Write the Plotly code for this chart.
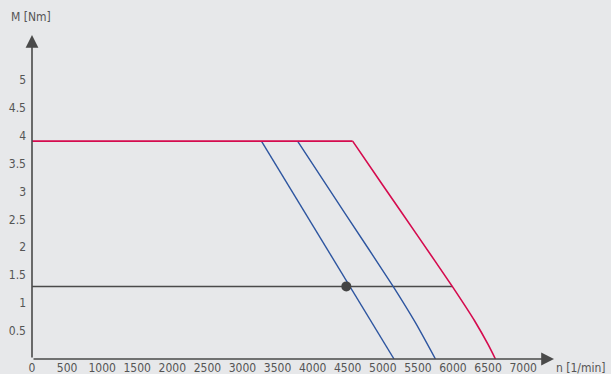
import plotly.graph_objects as go

# Torque/speed characteristic curves: speed n [1/min], torque M [Nm]
red_flat_n = [0, 4570]
red_flat_m = [3.9, 3.9]
red_n = [4570, 5000, 5500, 5990, 6310, 6500, 6605]
red_m = [3.9, 3.11, 2.2, 1.3, 0.68, 0.26, 0.0]

blue1_n = [3270, 4530, 5160]
blue1_m = [3.9, 1.3, 0.0]

blue2_n = [3785, 4466, 5147, 5465, 5750]
blue2_m = [3.9, 2.6, 1.3, 0.65, 0.0]

# Operating point and its load line
load_n = [0, 5990]
load_m = [1.3, 1.3]
op_n = [4480]
op_m = [1.3]

x_ticks = [0, 500, 1000, 1500, 2000, 2500, 3000, 3500, 4000, 4500, 5000, 5500, 6000, 6500, 7000]
x_labels = [str(v) for v in x_ticks]
y_ticks = [0.5, 1, 1.5, 2, 2.5, 3, 3.5, 4, 4.5, 5]
y_labels = ["0.5", "1", "1.5", "2", "2.5", "3", "3.5", "4", "4.5", "5"]

X_MAX = 7440
Y_MAX = 5.8

W, H = 611, 374
ML, MR, MT, MB = 32, 57, 35, 15
PW, PH = W - ML - MR, H - MT - MB

BG = "#e7e8ea"
RED = "#d50b4e"
BLUE = "#2d55a0"
DARK = "#4a4a4a"
TXT = "#555555"
FONT = "Liberation Sans Narrow, DejaVu Sans Condensed, sans-serif"


def px_to_paper(px, py):
    """Convert page pixel position to plot-area paper coordinates."""
    return (px - ML) / PW, (H - MB - py) / PH


fig = go.Figure()
fig.add_trace(go.Scatter(x=load_n, y=load_m, mode="lines",
                         line=dict(color=DARK, width=1.5), hoverinfo="skip"))
fig.add_trace(go.Scatter(x=blue1_n, y=blue1_m, mode="lines",
                         line=dict(color=BLUE, width=1.4),
                         hoverinfo="skip"))
fig.add_trace(go.Scatter(x=blue2_n, y=blue2_m, mode="lines",
                         line=dict(color=BLUE, width=1.4, shape="spline", smoothing=0.6),
                         hoverinfo="skip"))
fig.add_trace(go.Scatter(x=red_flat_n, y=red_flat_m, mode="lines",
                         line=dict(color=RED, width=1.6), hoverinfo="skip"))
fig.add_trace(go.Scatter(x=red_n, y=red_m, mode="lines",
                         line=dict(color=RED, width=1.6, shape="spline", smoothing=0.6),
                         hoverinfo="skip"))
fig.add_trace(go.Scatter(x=op_n, y=op_m, mode="markers",
                         marker=dict(color="#444444", size=10, line=dict(width=0)),
                         hoverinfo="skip"))

# Axis lines with arrow heads
fig.add_annotation(x=X_MAX, y=0, ax=0, ay=0, xref="x", yref="y", axref="x", ayref="y",
                   text="", showarrow=True, arrowhead=2, arrowsize=1.6,
                   arrowwidth=1.6, arrowcolor=DARK, standoff=0, startstandoff=0)
fig.add_annotation(x=0, y=Y_MAX, ax=0, ay=0, xref="x", yref="y", axref="x", ayref="y",
                   text="", showarrow=True, arrowhead=2, arrowsize=1.6,
                   arrowwidth=1.6, arrowcolor=DARK, standoff=0, startstandoff=0)

# Axis titles
for text, (px, py) in [("M [Nm]", (31, 17)), ("n [1/min]", (581, 368))]:
    xp, yp = px_to_paper(px, py)
    fig.add_annotation(x=xp, y=yp, xref="paper", yref="paper", text=text,
                       showarrow=False, xanchor="center", yanchor="middle",
                       font=dict(family=FONT, size=12, color=TXT))

fig.update_layout(
    width=W, height=H,
    margin=dict(l=ML, r=MR, t=MT, b=MB),
    paper_bgcolor=BG, plot_bgcolor=BG,
    showlegend=False,
    font=dict(family=FONT, size=12, color=TXT),
    xaxis=dict(range=[0, X_MAX], tickvals=x_ticks, ticktext=x_labels,
               showgrid=False, zeroline=False, showline=False, ticks="",
               automargin=False, fixedrange=True),
    yaxis=dict(range=[0, Y_MAX], tickvals=y_ticks, ticktext=y_labels,
               showgrid=False, zeroline=False, showline=False, ticks="",
               ticklabelstandoff=5, automargin=False, fixedrange=True),
)

fig.write_html("out.html")
